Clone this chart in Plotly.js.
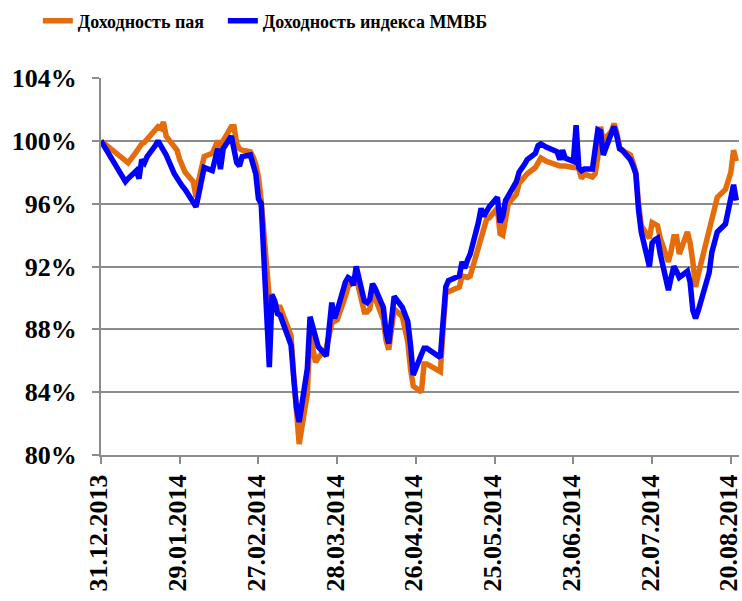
<!DOCTYPE html>
<html>
<head>
<meta charset="utf-8">
<script src="https://cdn.plot.ly/plotly-3.0.1.min.js"></script>
<style>html,body{margin:0;padding:0;background:#fff;}#chart{width:742px;height:601px;}</style>
</head>
<body>
<div id="chart"></div>
<script>
const dates = [
 '2013-12-31','2014-01-09','2014-01-10','2014-01-13','2014-01-14','2014-01-15','2014-01-16','2014-01-17',
 '2014-01-20','2014-01-21','2014-01-22','2014-01-23','2014-01-24','2014-01-27','2014-01-28','2014-01-29',
 '2014-01-30','2014-01-31','2014-02-03','2014-02-04','2014-02-05','2014-02-06','2014-02-07','2014-02-10',
 '2014-02-11','2014-02-12','2014-02-13','2014-02-14','2014-02-17','2014-02-18','2014-02-19','2014-02-20',
 '2014-02-21','2014-02-24','2014-02-25','2014-02-26','2014-02-27','2014-02-28','2014-03-03','2014-03-04',
 '2014-03-05','2014-03-06','2014-03-07','2014-03-11','2014-03-12','2014-03-13','2014-03-14','2014-03-17',
 '2014-03-18','2014-03-19','2014-03-20','2014-03-21','2014-03-24','2014-03-25','2014-03-26','2014-03-27',
 '2014-03-28','2014-03-31','2014-04-01','2014-04-02','2014-04-03','2014-04-04','2014-04-07','2014-04-08',
 '2014-04-09','2014-04-10','2014-04-11','2014-04-14','2014-04-15','2014-04-16','2014-04-17','2014-04-18',
 '2014-04-21','2014-04-22','2014-04-23','2014-04-24','2014-04-25','2014-04-28','2014-04-29','2014-04-30',
 '2014-05-05','2014-05-06','2014-05-07','2014-05-08','2014-05-12','2014-05-13','2014-05-14','2014-05-15',
 '2014-05-16','2014-05-19','2014-05-20','2014-05-21','2014-05-22','2014-05-23','2014-05-26','2014-05-27',
 '2014-05-28','2014-05-29','2014-05-30','2014-06-02','2014-06-03','2014-06-04','2014-06-05','2014-06-06',
 '2014-06-09','2014-06-10','2014-06-11','2014-06-13','2014-06-16','2014-06-17','2014-06-18','2014-06-19',
 '2014-06-20','2014-06-23','2014-06-24','2014-06-25','2014-06-26','2014-06-27','2014-06-30','2014-07-01',
 '2014-07-02','2014-07-03','2014-07-04','2014-07-07','2014-07-08','2014-07-09','2014-07-10','2014-07-11',
 '2014-07-14','2014-07-15','2014-07-16','2014-07-17','2014-07-18','2014-07-21','2014-07-22','2014-07-23',
 '2014-07-24','2014-07-25','2014-07-28','2014-07-29','2014-07-30','2014-07-31','2014-08-01','2014-08-04',
 '2014-08-05','2014-08-06','2014-08-07','2014-08-08','2014-08-11','2014-08-12','2014-08-13','2014-08-14',
 '2014-08-15','2014-08-18','2014-08-19','2014-08-20','2014-08-21','2014-08-22'
];

// Доходность пая (orange), %
const fundYield = [
 100.0,98.7,98.6,99.3,99.6,99.8,99.9,100.1,
 100.6,100.9,100.8,101.2,100.3,99.7,99.4,98.8,
 98.3,98.0,97.4,96.4,97.5,98.5,99.0,99.2,
 99.6,100.0,99.6,100.0,100.9,100.9,99.8,99.5,
 99.4,99.3,99.0,98.5,97.7,96.2,90.0,90.1,
 89.7,89.4,89.4,87.6,85.0,82.5,80.7,83.9,
 87.8,86.8,85.9,86.2,86.8,87.6,88.4,88.5,
 88.6,90.1,90.7,90.9,91.2,91.3,89.1,89.1,
 89.3,90.3,90.0,88.6,87.3,86.7,88.0,89.3,
 88.8,88.0,87.2,85.5,84.4,84.0,85.8,85.8,
 85.3,88.0,90.3,90.4,90.7,91.4,91.3,91.3,
 91.4,93.2,93.9,94.6,95.0,95.1,95.7,94.1,
 94.0,95.0,96.0,96.6,97.3,97.5,97.7,97.9,
 98.3,98.6,98.9,98.7,98.5,98.4,98.4,98.4,
 98.4,98.3,98.3,98.2,97.6,97.9,97.7,97.9,
 99.0,100.9,100.0,100.6,101.1,100.5,99.6,99.4,
 99.1,98.6,98.0,96.0,94.6,93.8,94.8,94.7,
 94.6,93.8,92.3,93.0,93.9,93.9,92.8,94.2,
 93.5,92.3,90.7,91.5,93.7,94.3,94.9,95.6,
 96.4,96.9,97.4,98.0,99.4,98.7
];

// Доходность индекса ММВБ (blue), %
const indexYield = [
 100.0,97.4,97.6,98.1,97.6,98.8,98.6,99.0,
 99.7,100.0,99.7,99.4,99.1,97.9,97.6,97.3,
 97.1,96.9,96.0,95.8,96.6,97.5,98.3,98.1,
 98.8,99.5,98.2,99.5,100.3,99.6,98.6,98.4,
 99.0,99.1,98.6,97.9,96.3,96.0,85.6,90.2,
 89.8,89.0,88.9,87.0,84.9,83.0,82.1,85.5,
 88.8,88.2,87.5,86.9,86.3,87.8,89.7,88.7,
 89.2,91.0,91.3,91.2,90.8,92.0,89.8,89.7,
 89.9,90.9,90.6,89.4,87.8,87.1,88.6,90.1,
 89.4,89.0,88.5,87.0,85.1,86.4,86.8,86.8,
 86.2,88.5,90.7,91.1,91.4,92.3,91.9,92.4,
 92.8,94.8,95.7,95.2,95.6,95.8,96.4,94.8,
 95.2,96.2,96.5,97.4,98.0,98.2,98.5,98.8,
 99.2,99.7,99.8,99.6,99.4,99.3,98.8,99.4,
 98.9,98.7,101.0,98.3,98.1,98.2,98.2,99.5,
 100.7,100.6,99.1,100.5,100.9,100.3,99.5,99.4,
 98.8,98.4,97.9,95.6,94.2,92.0,93.5,93.7,
 93.8,92.8,90.5,91.3,92.0,91.7,91.3,91.7,
 91.0,89.2,88.7,89.2,91.1,91.6,92.9,93.6,
 94.2,94.7,95.5,96.3,97.2,96.2
];

const tickDates = ['2013-12-31','2014-01-29','2014-02-27','2014-03-28','2014-04-26','2014-05-25','2014-06-23','2014-07-22','2014-08-20'];
const tickLabels = ['31.12.2013','29.01.2014','27.02.2014','28.03.2014','26.04.2014','25.05.2014','23.06.2014','22.07.2014','20.08.2014'];
const seriesNames = ['Доходность пая','Доходность индекса ММВБ'];

const FONT = 'Liberation Serif, Times New Roman, serif';
const GRID = '#8c8c8c';

const traces = [
 {x: dates, y: fundYield, name: seriesNames[0], type: 'scatter', mode: 'lines',
  legend: 'legend',
  line: {color: '#E46C0A', width: 5.5, shape: 'linear'}},
 {x: dates, y: indexYield, name: seriesNames[1], type: 'scatter', mode: 'lines',
  legend: 'legend2',
  line: {color: '#0000FF', width: 5.5, shape: 'linear'}}
];

const legendFont = {family: FONT, size: 18, color: '#000', weight: 'bold'};

const layout = {
 width: 742, height: 601,
 margin: {l: 101, r: 3, t: 78, b: 146, pad: 0},
 paper_bgcolor: '#fff', plot_bgcolor: '#fff',
 font: {family: FONT, color: '#000', weight: 'bold'},
 showlegend: true,
 legend: {orientation: 'h', x: -0.099, xanchor: 'left', y: 1.2, yanchor: 'top',
  font: legendFont, bgcolor: 'rgba(0,0,0,0)'},
 legend2: {orientation: 'h', x: 0.191, xanchor: 'left', y: 1.2, yanchor: 'top',
  font: legendFont, bgcolor: 'rgba(0,0,0,0)'},
 xaxis: {type: 'date', range: ['2013-12-31', '2014-08-23'],
  tickmode: 'array', tickvals: tickDates, ticktext: tickLabels, tickangle: -90,
  tickfont: {family: FONT, size: 26, color: '#000', weight: 'bold'},
  ticklabeloverflow: 'allow', ticklabelshift: -2,
  showline: true, linecolor: GRID, linewidth: 2,
  ticks: 'outside', ticklen: 7, tickwidth: 2, tickcolor: GRID,
  showgrid: false, zeroline: false, fixedrange: true},
 yaxis: {range: [80, 104], dtick: 4, tick0: 80, ticksuffix: '%',
  tickfont: {family: FONT, size: 26, color: '#000', weight: 'bold'},
  showline: true, linecolor: GRID, linewidth: 2,
  ticks: 'outside', ticklen: 7, tickwidth: 2, tickcolor: GRID,
  ticklabelstandoff: 10,
  showgrid: true, gridcolor: GRID, gridwidth: 2, zeroline: false, fixedrange: true}
};

Plotly.newPlot('chart', traces, layout, {displayModeBar: false, staticPlot: true});
</script>
</body>
</html>
